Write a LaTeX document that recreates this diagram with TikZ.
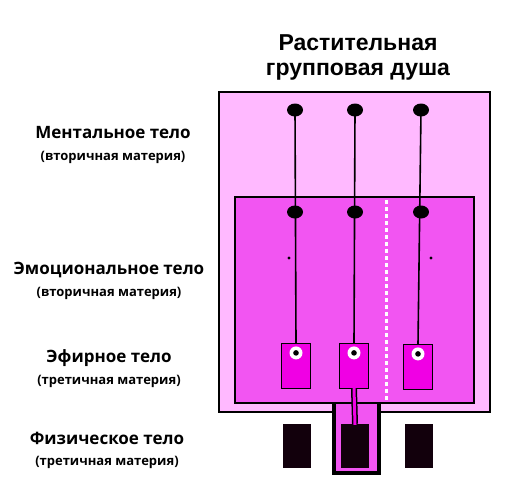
\documentclass[tikz,border=0pt]{standalone}
\usepackage{fontspec}
\setmainfont{Open Sans}
\newfontfamily\titlefont{Liberation Sans}
\usetikzlibrary{shapes.geometric}
\definecolor{mentalpink}{RGB}{255,185,255}
\definecolor{emopink}{RGB}{242,85,242}
\definecolor{ethermag}{RGB}{240,0,228}
\definecolor{physblack}{RGB}{18,0,12}

\tikzset{
  knot/.style={ellipse, fill=black, minimum width=16pt, minimum height=13pt, inner sep=0pt},
  etherbox/.style={draw=black, line width=1.2pt, fill=ethermag, minimum width=29pt, minimum height=45pt, inner sep=0pt},
  physbox/.style={fill=physblack, minimum width=28pt, minimum height=44pt, inner sep=0pt},
  bodylbl/.style={font=\bfseries\fontsize{17}{19}\selectfont},
  matlbl/.style={font=\bfseries\fontsize{13}{15}\selectfont},
  cord/.style={line width=1.6pt, black},
}

\begin{document}
\begin{tikzpicture}[x=1pt,y=-1pt]
\useasboundingbox (0,0) rectangle (529,498);
% title
\node[font=\titlefont\bfseries\fontsize{23}{25}\selectfont] (title1) at (358,43) {Растительная};
\node[font=\titlefont\bfseries\fontsize{23}{25}\selectfont] (title2) at (358,72) {групповая душа};
% mental and emotional planes
\draw[line width=1.5pt, fill=mentalpink] (219,92) rectangle (490,412);
\draw[line width=3.5pt, fill=emopink] (334,398) rectangle (379,473);
\draw[line width=1.5pt, fill=emopink] (235,197) rectangle (474,403);
\draw[white, line width=3pt, dash pattern=on 4pt off 3pt] (386,200) -- (386,400);
\fill[black] (289,258) circle (1.6);
\fill[black] (431,258) circle (1.6);
% etheric bodies
\node[etherbox] (e1) at (296,366) {};
\node[etherbox] (e2) at (354,366) {};
\node[etherbox] (e3) at (418,367) {};
% physical bodies
\node[physbox] (p1) at (297,446) {};
\node[physbox] (p2) at (355,446) {};
\node[physbox] (p3) at (419,446) {};
\draw[line width=6pt, black] (e2.south) -- (p2.north);
\draw[line width=3pt, ethermag] ([yshift=1pt]e2.south) -- ([yshift=-1pt]p2.north);
% knots and cords
\foreach \i/\x in {1/295,2/355,3/421} {
  \node[knot] (m\i) at (\x,110) {};
  \node[knot] (a\i) at (\x,212) {};
  \draw[cord] (m\i.center) -- (e\i.north);
  \node[circle, fill=white, minimum size=13pt, inner sep=0pt] (w\i) at ([yshift=-10pt]e\i.north) {};
  \fill[black] (w\i.center) circle (2.8);
}
% labels
\node[bodylbl] (mental) at (113,133) {Ментальное тело};
\node[matlbl] (mentalsub) at (113,157) {(вторичная материя)};
\node[bodylbl] (emo) at (109,270) {Эмоциональное тело};
\node[matlbl] (emosub) at (109,293) {(вторичная материя)};
\node[bodylbl] (ether) at (109,358) {Эфирное тело};
\node[matlbl] (ethersub) at (109,381) {(третичная материя)};
\node[bodylbl] (phys) at (107,438) {Физическое тело};
\node[matlbl] (physsub) at (107,462) {(третичная материя)};
\end{tikzpicture}
\end{document}
